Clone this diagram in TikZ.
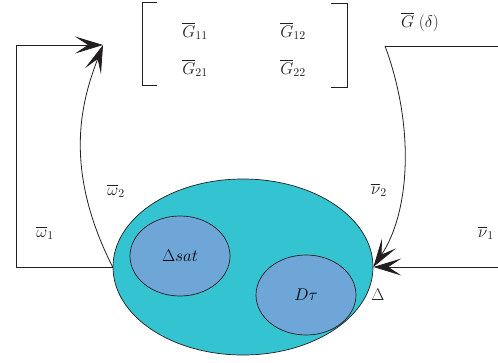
\RequirePackage{fix-cm}
\documentclass[tikz,border=0pt]{standalone}
\usepackage{tikz}
\usepackage{amsmath, amssymb}
\usetikzlibrary{positioning, calc, arrows.meta, shapes.geometric}
\definecolor{Dark}{HTML}{231F20}
\definecolor{Cyan}{HTML}{34C3D1}
\definecolor{Steel}{HTML}{6FA6D8}
\newcommand{\lblsize}{\fontsize{17}{20}\selectfont}
\tikzset{
    outerblob/.style={ellipse, draw=Dark, fill=Cyan, line width=0.7pt, inner sep=0pt, minimum width=260bp, minimum height=176bp},
    innerblob/.style={ellipse, draw=Dark, fill=Steel, line width=0.7pt, inner sep=0pt, minimum width=100bp, minimum height=80bp, font=\lblsize},
    arrow/.style={-{Stealth[length=28bp, width=17bp, inset=13bp]}, line width=0.8pt, color=Dark},
    wire/.style={line width=0.8pt, color=Dark},
    lbl/.style={font=\lblsize, text=Dark, inner sep=1pt},
}
\begin{document}
\begin{tikzpicture}[x=1bp, y=1bp]
    \useasboundingbox (0,0) rectangle (498,362);

    % Blocco centrale
    \node[outerblob] (plant) at (243,95) {};
    \node[innerblob] (sat) at (180,106) {$\Delta sat$};
    \node[innerblob] (delay) at (306,67) {$D\tau$};
    \node[lbl] (delta) at (378,67) {$\Delta$};

    % Matrice G
    \node[lbl] (g11) at (195,331) {$\overline{G}_{11}$};
    \node[lbl] (g12) at (293,331) {$\overline{G}_{12}$};
    \node[lbl] (g21) at (195,294) {$\overline{G}_{21}$};
    \node[lbl] (g22) at (293,294) {$\overline{G}_{22}$};
    \draw[wire] (157,360) -- (142,360) -- (142,277) -- (157,277);
    \draw[wire] (331,359) -- (347,359) -- (347,275) -- (331,275);
    \node[lbl] (gdelta) at (420,340) {$\overline{G}\;(\delta)$};

    % Punti di aggancio
    \coordinate (mtip) at (103,317);
    \coordinate (gstart) at (385,316);
    \coordinate (rtop) at (498,316);
    \coordinate (rin) at (498,95);

    % Anello sinistro
    \draw[arrow] (plant.west) -- (16,95) |- (mtip);
    \draw[arrow] (plant.west) .. controls (62,195) and (82,262) .. (mtip);
    \node[lbl] (w1) at (45,129) {$\overline{\omega}_1$};
    \node[lbl] (w2) at (116,171) {$\overline{\omega}_2$};

    % Anello destro
    \draw[wire] (rtop) -- (gstart);
    \draw[arrow] (gstart) .. controls (415,235) and (410,150) .. (plant.east);
    \draw[arrow] (rin) -- (plant.east);
    \node[lbl] (v2) at (379,172) {$\overline{\nu}_2$};
    \node[lbl] (v1) at (486,129) {$\overline{\nu}_1$};

\end{tikzpicture}
\end{document}
